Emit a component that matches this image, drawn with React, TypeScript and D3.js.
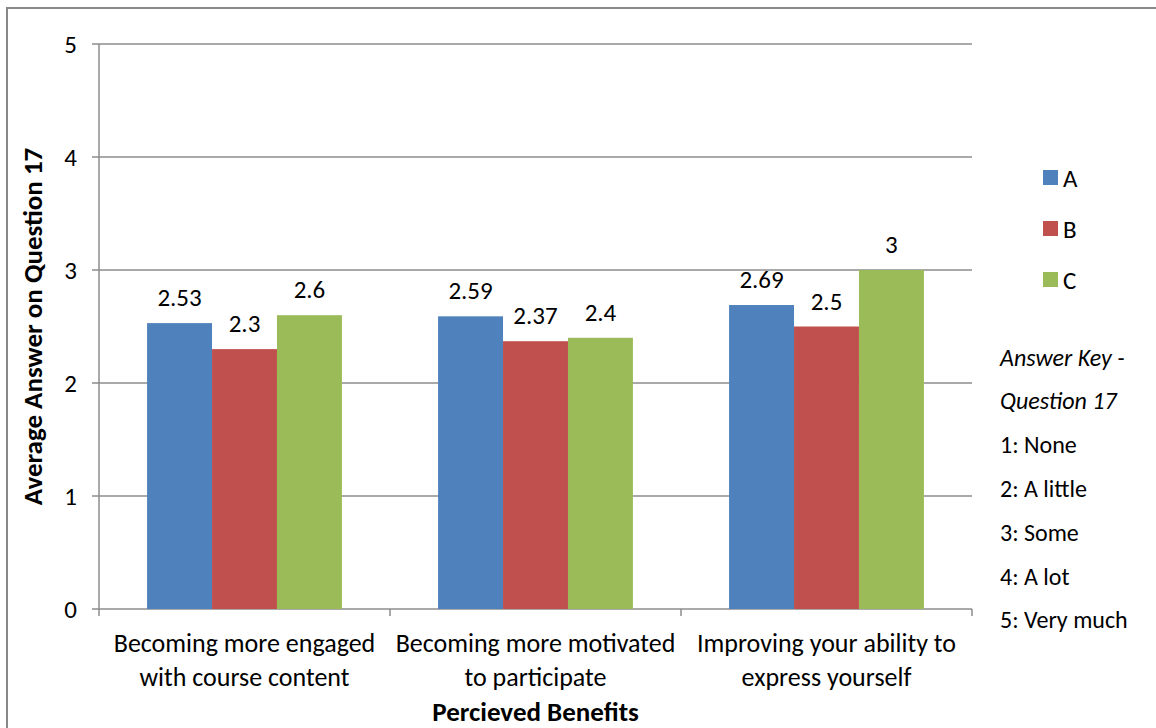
import React from "react";
import * as d3 from "d3";

const categories = [
  ["Becoming more engaged", "with course content"],
  ["Becoming more motivated", "to participate"],
  ["Improving your ability to", "express yourself"],
];
const seriesNames = ["A", "B", "C"];
const seriesColors = ["#4F81BD", "#C0504D", "#9BBB59"];
const valuesA = [2.53, 2.59, 2.69];
const valuesB = [2.3, 2.37, 2.5];
const valuesC = [2.6, 2.4, 3];
const yTicks = [0, 1, 2, 3, 4, 5];
const answerKey = ["Answer Key -", "Question 17", "1: None", "2: A little", "3: Some", "4: A lot", "5: Very much"];

const FONT = "Carlito, Lato, 'Open Sans', sans-serif";

export default function App() {
  const W = 1156, H = 728;
  const left = 99, right = 972, top = 44, bottom = 609;
  const y = d3.scaleLinear().domain([0, 5]).range([bottom, top]);
  const x0 = d3.scaleBand().domain(categories.map((_, i) => String(i))).range([left, right]).paddingInner(0).paddingOuter(0);
  const x1 = d3.scaleBand().domain(seriesNames).range([0, x0.bandwidth()]).paddingOuter(0.74).paddingInner(0);
  const series = [valuesA, valuesB, valuesC];
  const fmt = (v: number) => String(v);

  return (
    <svg width={W} height={H} style={{ position: "absolute", left: 0, top: 0, fontFamily: FONT }}>
      <rect x={0} y={0} width={W} height={H} fill="#fff" />
      <rect x={7} y={8} width={W + 20} height={H + 20} fill="none" stroke="#888" strokeWidth={2} />
      {yTicks.map((t) => (
        <g key={t}>
          <line x1={left - 7} x2={right} y1={y(t)} y2={y(t)} stroke="#8c8c8c" strokeWidth={1.5} />
          <text x={77} y={y(t)} dy="0.36em" textAnchor="end" fontSize={25} fill="#000">{t}</text>
        </g>
      ))}
      <line x1={left} x2={left} y1={top} y2={bottom} stroke="#8c8c8c" strokeWidth={1.5} />
      {[0, 1, 2, 3].map((i) => (
        <line key={i} x1={left + i * x0.bandwidth()} x2={left + i * x0.bandwidth()} y1={bottom} y2={bottom + 7} stroke="#8c8c8c" strokeWidth={1.5} />
      ))}
      {categories.map((c, ci) => (
        <g key={ci}>
          {series.map((vals, si) => {
            const bx = (x0(String(ci)) as number) + (x1(seriesNames[si]) as number);
            const bw = x1.bandwidth();
            return (
              <g key={si}>
                <rect x={bx} y={y(vals[ci])} width={bw} height={bottom - y(vals[ci])} fill={seriesColors[si]} />
                <text x={bx + bw / 2} y={y(vals[ci]) - 17} textAnchor="middle" fontSize={25} fill="#000">{fmt(vals[ci])}</text>
              </g>
            );
          })}
          {c.map((line, li) => (
            <text key={li} x={(x0(String(ci)) as number) + x0.bandwidth() / 2} y={652 + li * 34} textAnchor="middle" fontSize={26} fill="#000">{line}</text>
          ))}
        </g>
      ))}
      <text x={(left + right) / 2} y={721} textAnchor="middle" fontSize={27} fontWeight="bold" fill="#000">Percieved Benefits</text>
      <text transform={`translate(42, ${(top + bottom) / 2}) rotate(-90)`} textAnchor="middle" fontSize={27} fontWeight="bold" fill="#000">Average Answer on Question 17</text>
      {seriesNames.map((s, i) => (
        <g key={s}>
          <rect x={1043} y={170 + i * 51} width={15} height={15} fill={seriesColors[i]} />
          <text x={1063} y={177.5 + i * 51} dy="0.36em" fontSize={25} fill="#000">{s}</text>
        </g>
      ))}
      {answerKey.map((t, i) => (
        <text key={i} x={1000} y={357 + i * 43.8} dy="0.36em" fontSize={24} fontStyle={i < 2 ? "italic" : "normal"} fill="#000">{t}</text>
      ))}
    </svg>
  );
}
